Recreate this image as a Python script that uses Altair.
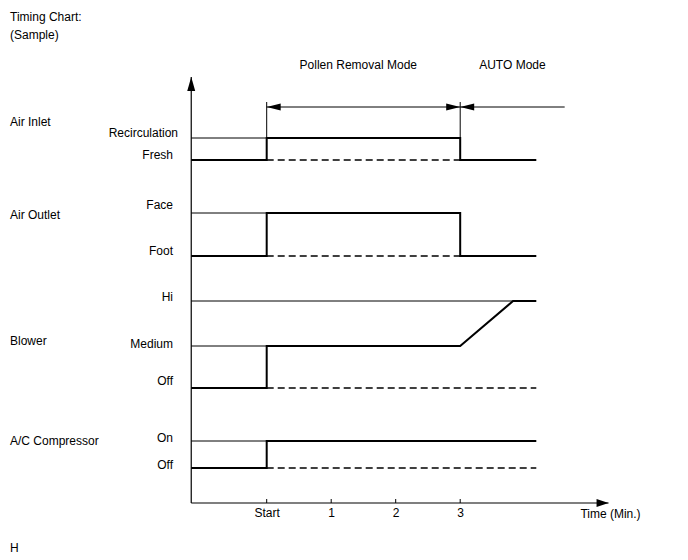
import altair as alt
import pandas as pd

FONT = "Liberation Sans"
INK = "#000000"

# ---- time values (minutes) ----
t_axis = -1.17          # where the time axis starts (vertical axis)
tick_values = [0, 1, 2, 3]
t_signal_end = 4.18
t_hi_reached = 3.82
t_auto_arrow_end = 4.62
t_xaxis_tip = 5.3

# ---- signal groups and their level values (units above the time axis) ----
signals = ["Air Inlet", "Air Outlet", "Blower", "A/C Compressor"]
signal_label_y = [381, 288, 162, 62]

level_names = ["Recirculation", "Fresh", "Face", "Foot", "Hi", "Medium", "Off", "On", "Off"]
level_values = [365, 343, 290, 247, 202, 157, 115, 62, 35]
level_label_y = [370, 348, 298, 252, 206, 159, 122, 65, 38]

# ---- actual state path of each signal ----
inlet_t = [t_axis, 0, 0, 3, 3, t_signal_end]
inlet_v = [343, 343, 365, 365, 343, 343]
outlet_t = [t_axis, 0, 0, 3, 3, t_signal_end]
outlet_v = [247, 247, 290, 290, 247, 247]
blower_t = [t_axis, 0, 0, 3, t_hi_reached, t_signal_end]
blower_v = [115, 115, 157, 157, 202, 202]
comp_t = [t_axis, 0, 0, t_signal_end]
comp_v = [35, 35, 62, 62]

# thin reference lines (level, from, to)
ref_level = [365, 290, 202, 157, 62]
ref_t1 = [t_axis, t_axis, t_axis, t_axis, t_axis]
ref_t2 = [0, 0, t_hi_reached, 0, 0]

# dashed "previous state" lines
dash_level = [343, 247, 115, 35]
dash_t1 = [0, 0, 0, 0]
dash_t2 = [3, 3, t_signal_end, t_signal_end]

# ---- modes ----
mode_names = ["Pollen Removal Mode", "AUTO Mode"]
mode_start = [0, 3]
mode_end = [3, t_auto_arrow_end]
mode_label_t = [1.42, 3.81]
mode_arrow_level = 396
mode_label_level = 438
mode_marker_top = 401
axis_top = 426

# ---- build tables ----
rows = []
for name, ts, vs in zip(signals, [inlet_t, outlet_t, blower_t, comp_t],
                        [inlet_v, outlet_v, blower_v, comp_v]):
    for i, (t, v) in enumerate(zip(ts, vs)):
        rows.append({"signal": name, "i": i, "t": t, "v": v})
paths = pd.DataFrame(rows)
refs = pd.DataFrame({"v": ref_level, "t1": ref_t1, "t2": ref_t2})
dashes = pd.DataFrame({"v": dash_level, "t1": dash_t1, "t2": dash_t2})
levels = pd.DataFrame({"name": level_names, "ly": level_label_y})
groups = pd.DataFrame({"name": signals, "ly": signal_label_y})
modes = pd.DataFrame({"name": mode_names, "t1": mode_start, "t2": mode_end,
                      "lt": mode_label_t, "av": [mode_arrow_level] * 2,
                      "lv": [mode_label_level] * 2})
markers = pd.DataFrame({"t": [0, 3], "v1": [level_values[0]] * 2, "v2": [mode_marker_top] * 2})
ticks = pd.DataFrame({"t": tick_values, "v1": [0] * 4, "v2": [4] * 4})
axes_x = pd.DataFrame({"t1": [t_axis], "t2": [t_xaxis_tip], "v": [0]})
axes_y = pd.DataFrame({"t": [t_axis], "v1": [0], "v2": [axis_top]})
left_heads = pd.DataFrame({"t": [0, 3], "v": [mode_arrow_level] * 2})
right_heads = pd.DataFrame({"t": [3], "v": [mode_arrow_level]})
up_head = pd.DataFrame({"t": [t_axis], "v": [axis_top]})
xaxis_head = pd.DataFrame({"t": [t_xaxis_tip], "v": [0]})
one = pd.DataFrame({"a": [0]})

xs = alt.Scale(domain=[-4.135, 6.532], nice=False, zero=False)
ys = alt.Scale(domain=[0, 503], nice=False, zero=False)
xaxis = alt.Axis(values=tick_values, labelExpr="datum.value === 0 ? 'Start' : datum.label",
                 ticks=False, domain=False, grid=False, labelPadding=4,
                 labelFont=FONT, labelFontSize=12, labelColor=INK, labelFontWeight="normal",
                 title="Time (Min.)", titleFont=FONT, titleFontSize=12, titleFontWeight="normal",
                 titleColor=INK, titleX=610, titleY=10, titleAlign="center", titleBaseline="middle")


def X(field):
    return alt.X(field, type="quantitative", scale=xs, axis=xaxis)


def Y(field):
    return alt.Y(field, type="quantitative", scale=ys, axis=None)


layers = []
# thin reference lines
layers.append(alt.Chart(refs).mark_rule(color=INK, strokeWidth=1).encode(
    x=X("t1"), x2="t2", y=Y("v")))
# dashed lines
layers.append(alt.Chart(dashes).mark_rule(color=INK, strokeWidth=1.5, strokeDash=[7, 4]).encode(
    x=X("t1"), x2="t2", y=Y("v")))
# signal paths
layers.append(alt.Chart(paths).mark_line(color=INK, strokeWidth=2, strokeJoin="miter").encode(
    x=X("t"), y=Y("v"), detail="signal:N", order="i:Q"))
# mode boundary markers
layers.append(alt.Chart(markers).mark_rule(color=INK, strokeWidth=1).encode(
    x=X("t"), y=Y("v1"), y2="v2"))
# mode arrows
layers.append(alt.Chart(modes).mark_rule(color=INK, strokeWidth=1).encode(
    x=X("t1"), x2="t2", y=Y("av")))
layers.append(alt.Chart(left_heads).mark_point(
    shape="M0,0L2,-0.5L2,0.5Z", filled=True, size=196, color=INK, opacity=1, strokeWidth=0).encode(
    x=X("t"), y=Y("v")))
layers.append(alt.Chart(right_heads).mark_point(
    shape="M0,0L-2,-0.5L-2,0.5Z", filled=True, size=196, color=INK, opacity=1, strokeWidth=0).encode(
    x=X("t"), y=Y("v")))
layers.append(alt.Chart(modes).mark_text(font=FONT, fontSize=12, color=INK, align="center",
                                         baseline="middle").encode(
    x=X("lt"), y=Y("lv"), text="name:N"))
# axes
layers.append(alt.Chart(axes_x).mark_rule(color=INK, strokeWidth=1.2).encode(
    x=X("t1"), x2="t2", y=Y("v")))
layers.append(alt.Chart(axes_y).mark_rule(color=INK, strokeWidth=1.2).encode(
    x=X("t"), y=Y("v1"), y2="v2"))
layers.append(alt.Chart(ticks).mark_rule(color=INK, strokeWidth=1).encode(
    x=X("t"), y=Y("v1"), y2="v2"))
layers.append(alt.Chart(up_head).mark_point(
    shape="M0,0L-0.57,2L0.57,2Z", filled=True, size=196, color=INK, opacity=1, strokeWidth=0).encode(
    x=X("t"), y=Y("v")))
layers.append(alt.Chart(xaxis_head).mark_point(
    shape="M0,0L-2,-0.65L-2,0.65Z", filled=True, size=144, color=INK, opacity=1, strokeWidth=0).encode(
    x=X("t"), y=Y("v")))
# level labels
layers.append(alt.Chart(levels).transform_filter("datum.name !== 'Recirculation'").mark_text(
    font=FONT, fontSize=12, color=INK, align="right", baseline="middle").encode(
    x=alt.value(173), y=Y("ly"), text="name:N"))
layers.append(alt.Chart(levels).transform_filter("datum.name === 'Recirculation'").mark_text(
    font=FONT, fontSize=12, color=INK, align="right", baseline="middle").encode(
    x=alt.value(178), y=Y("ly"), text="name:N"))
# signal group labels
layers.append(alt.Chart(groups).mark_text(
    font=FONT, fontSize=12, color=INK, align="left", baseline="middle").encode(
    x=alt.value(10), y=Y("ly"), text="name:N"))
# titles / figure id
for txt, yy in [("Timing Chart:", 17), ("(Sample)", 35), ("H", 548)]:
    layers.append(alt.Chart(one).mark_text(
        font=FONT, fontSize=12, color=INK, align="left", baseline="middle").encode(
        x=alt.value(10), y=alt.value(yy), text=alt.value(txt)))

chart = alt.layer(*layers).properties(
    width=688, height=503,
    padding={"left": 0, "top": 0, "right": 0, "bottom": 57},
    autosize=alt.AutoSizeParams(type="none"),
    background="white",
).configure_view(strokeWidth=0)

chart.save("out.html", embed_options={"renderer": "svg", "actions": False})
